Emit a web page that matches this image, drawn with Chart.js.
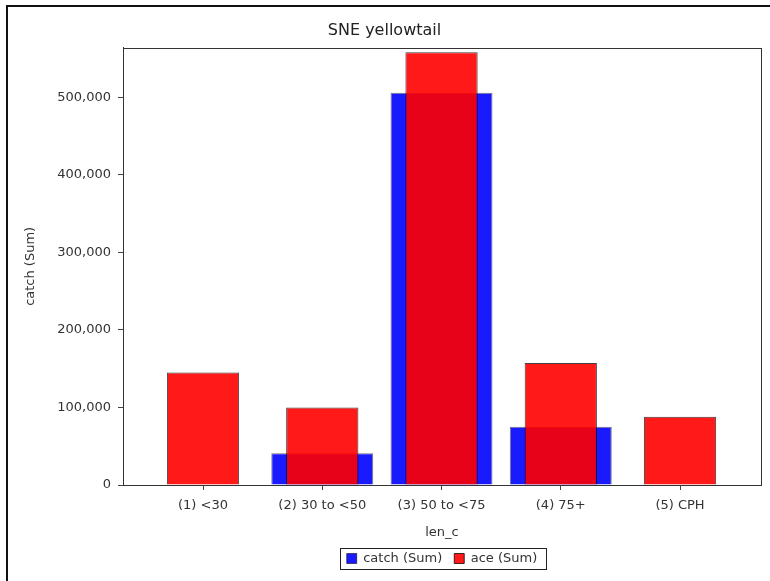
<!DOCTYPE html>
<html>
<head>
<meta charset="utf-8">
<script src="https://cdn.jsdelivr.net/npm/chart.js@4/dist/chart.umd.min.js"></script>
<style>
  html, body { margin: 0; padding: 0; background: #fff; }
  #wrap { width: 770px; height: 581px; position: relative; }
</style>
</head>
<body>
<div id="wrap"><canvas id="sne-chart"></canvas></div>
<script>
// data
const categories = ['(1) <30', '(2) 30 to <50', '(3) 50 to <75', '(4) 75+', '(5) CPH'];
const catchSum = [null, 41000, 506000, 75000, null];
const aceSum = [145000, 100000, 558000, 157500, 88000];
const yTicks = [0, 100000, 200000, 300000, 400000, 500000];

const textColor = '#333';
const baseFont = { family: 'DejaVu Sans', size: 13 };

const toPoints = (arr) => arr.map((v, i) => ({ x: i, y: v }));

// outer page border + plot frame + legend box
const framePlugin = {
  id: 'frames',
  afterLayout(chart) {
    // centre the legend under the plot area, not the whole canvas
    const a = chart.chartArea;
    chart.legend.left = a.left;
    chart.legend.right = a.right;
  },
  beforeDraw(chart) {
    const ctx = chart.ctx;
    ctx.save();
    ctx.strokeStyle = '#111';
    ctx.lineWidth = 2;
    ctx.strokeRect(7, 6, 800, 620);
    ctx.restore();
  },
  afterDraw(chart) {
    const ctx = chart.ctx;
    const a = chart.chartArea;
    ctx.save();
    ctx.strokeStyle = '#333';
    ctx.lineWidth = 1;
    ctx.strokeRect(Math.round(a.left) + 0.5, Math.round(a.top) + 0.5,
      Math.round(a.right - a.left), Math.round(a.bottom - a.top));
    const boxes = chart.legend.legendHitBoxes;
    if (boxes && boxes.length) {
      const l = Math.min(...boxes.map(b => b.left)) - 7;
      const r = Math.max(...boxes.map(b => b.left + b.width)) + 8;
      const t = Math.min(...boxes.map(b => b.top)) - 4;
      const btm = Math.max(...boxes.map(b => b.top + b.height)) + 4;
      ctx.strokeStyle = '#222';
      ctx.strokeRect(Math.round(l) + 0.5, Math.round(t) + 0.5, Math.round(r - l), Math.round(btm - t));
    }
    ctx.restore();
  }
};

new Chart(document.getElementById('sne-chart'), {
  type: 'bar',
  data: {
    datasets: [
      {
        label: 'catch (Sum)',
        data: toPoints(catchSum),
        backgroundColor: '#1a1aff',
        borderColor: 'rgba(0,0,0,0.55)',
        borderWidth: 1,
        grouped: false,
        categoryPercentage: 1,
        barPercentage: 0.855,
        order: 1,
      },
      {
        label: 'ace (Sum)',
        data: toPoints(aceSum),
        backgroundColor: 'rgba(255,0,0,0.9)',
        borderColor: 'rgba(0,0,0,0.75)',
        borderWidth: 1,
        grouped: false,
        categoryPercentage: 1,
        barPercentage: 0.606,
        order: 0,
      },
    ],
  },
  options: {
    responsive: true,
    maintainAspectRatio: false,
    animation: false,
    devicePixelRatio: 1,
    layout: {
      padding: { left: 8, top: 8, right: 9, bottom: 6 },
    },
    plugins: {
      title: {
        display: true,
        text: 'SNE yellowtail',
        color: '#222',
        font: { family: 'DejaVu Sans', size: 16, weight: 'normal' },
        padding: { top: 13.4, bottom: 7.1 },
      },
      legend: {
        position: 'bottom',
        labels: {
          color: textColor,
          font: baseFont,
          boxWidth: 10,
          boxHeight: 10,
          padding: 12,
          sort: (a, b) => a.datasetIndex - b.datasetIndex,
        },
      },
      tooltip: { enabled: false },
    },
    scales: {
      x: {
        type: 'linear',
        offset: false,
        min: -0.671,
        max: 4.679,
        afterBuildTicks: (scale) => {
          scale.ticks = categories.map((c, i) => ({ value: i }));
        },
        afterFit: (scale) => { scale.height = 55; },
        ticks: {
          color: textColor,
          font: baseFont,
          padding: 8,
          maxRotation: 0,
          autoSkip: false,
          includeBounds: false,
          callback: (value) => categories[value],
        },
        grid: { offset: false, drawOnChartArea: false, drawTicks: true, tickLength: 5, color: '#444' },
        border: { display: true, color: '#333' },
        title: {
          display: true,
          text: 'len_c',
          color: textColor,
          font: baseFont,
          padding: { top: 0, bottom: 0 },
        },
      },
      y: {
        min: 0,
        max: 564000,
        afterBuildTicks: (scale) => {
          scale.ticks = yTicks.map(v => ({ value: v }));
        },
        afterFit: (scale) => { scale.width = 115; },
        ticks: {
          color: textColor,
          font: baseFont,
          padding: 7,
          includeBounds: false,
          callback: (value) => value.toLocaleString('en-US'),
        },
        grid: { drawOnChartArea: false, drawTicks: true, tickLength: 5, color: '#444' },
        border: { display: true, color: '#333' },
        title: {
          display: true,
          text: 'catch (Sum)',
          color: textColor,
          font: baseFont,
          padding: { top: 15.2, bottom: 0 },
        },
      },
    },
  },
  plugins: [framePlugin],
});
</script>
</body>
</html>
